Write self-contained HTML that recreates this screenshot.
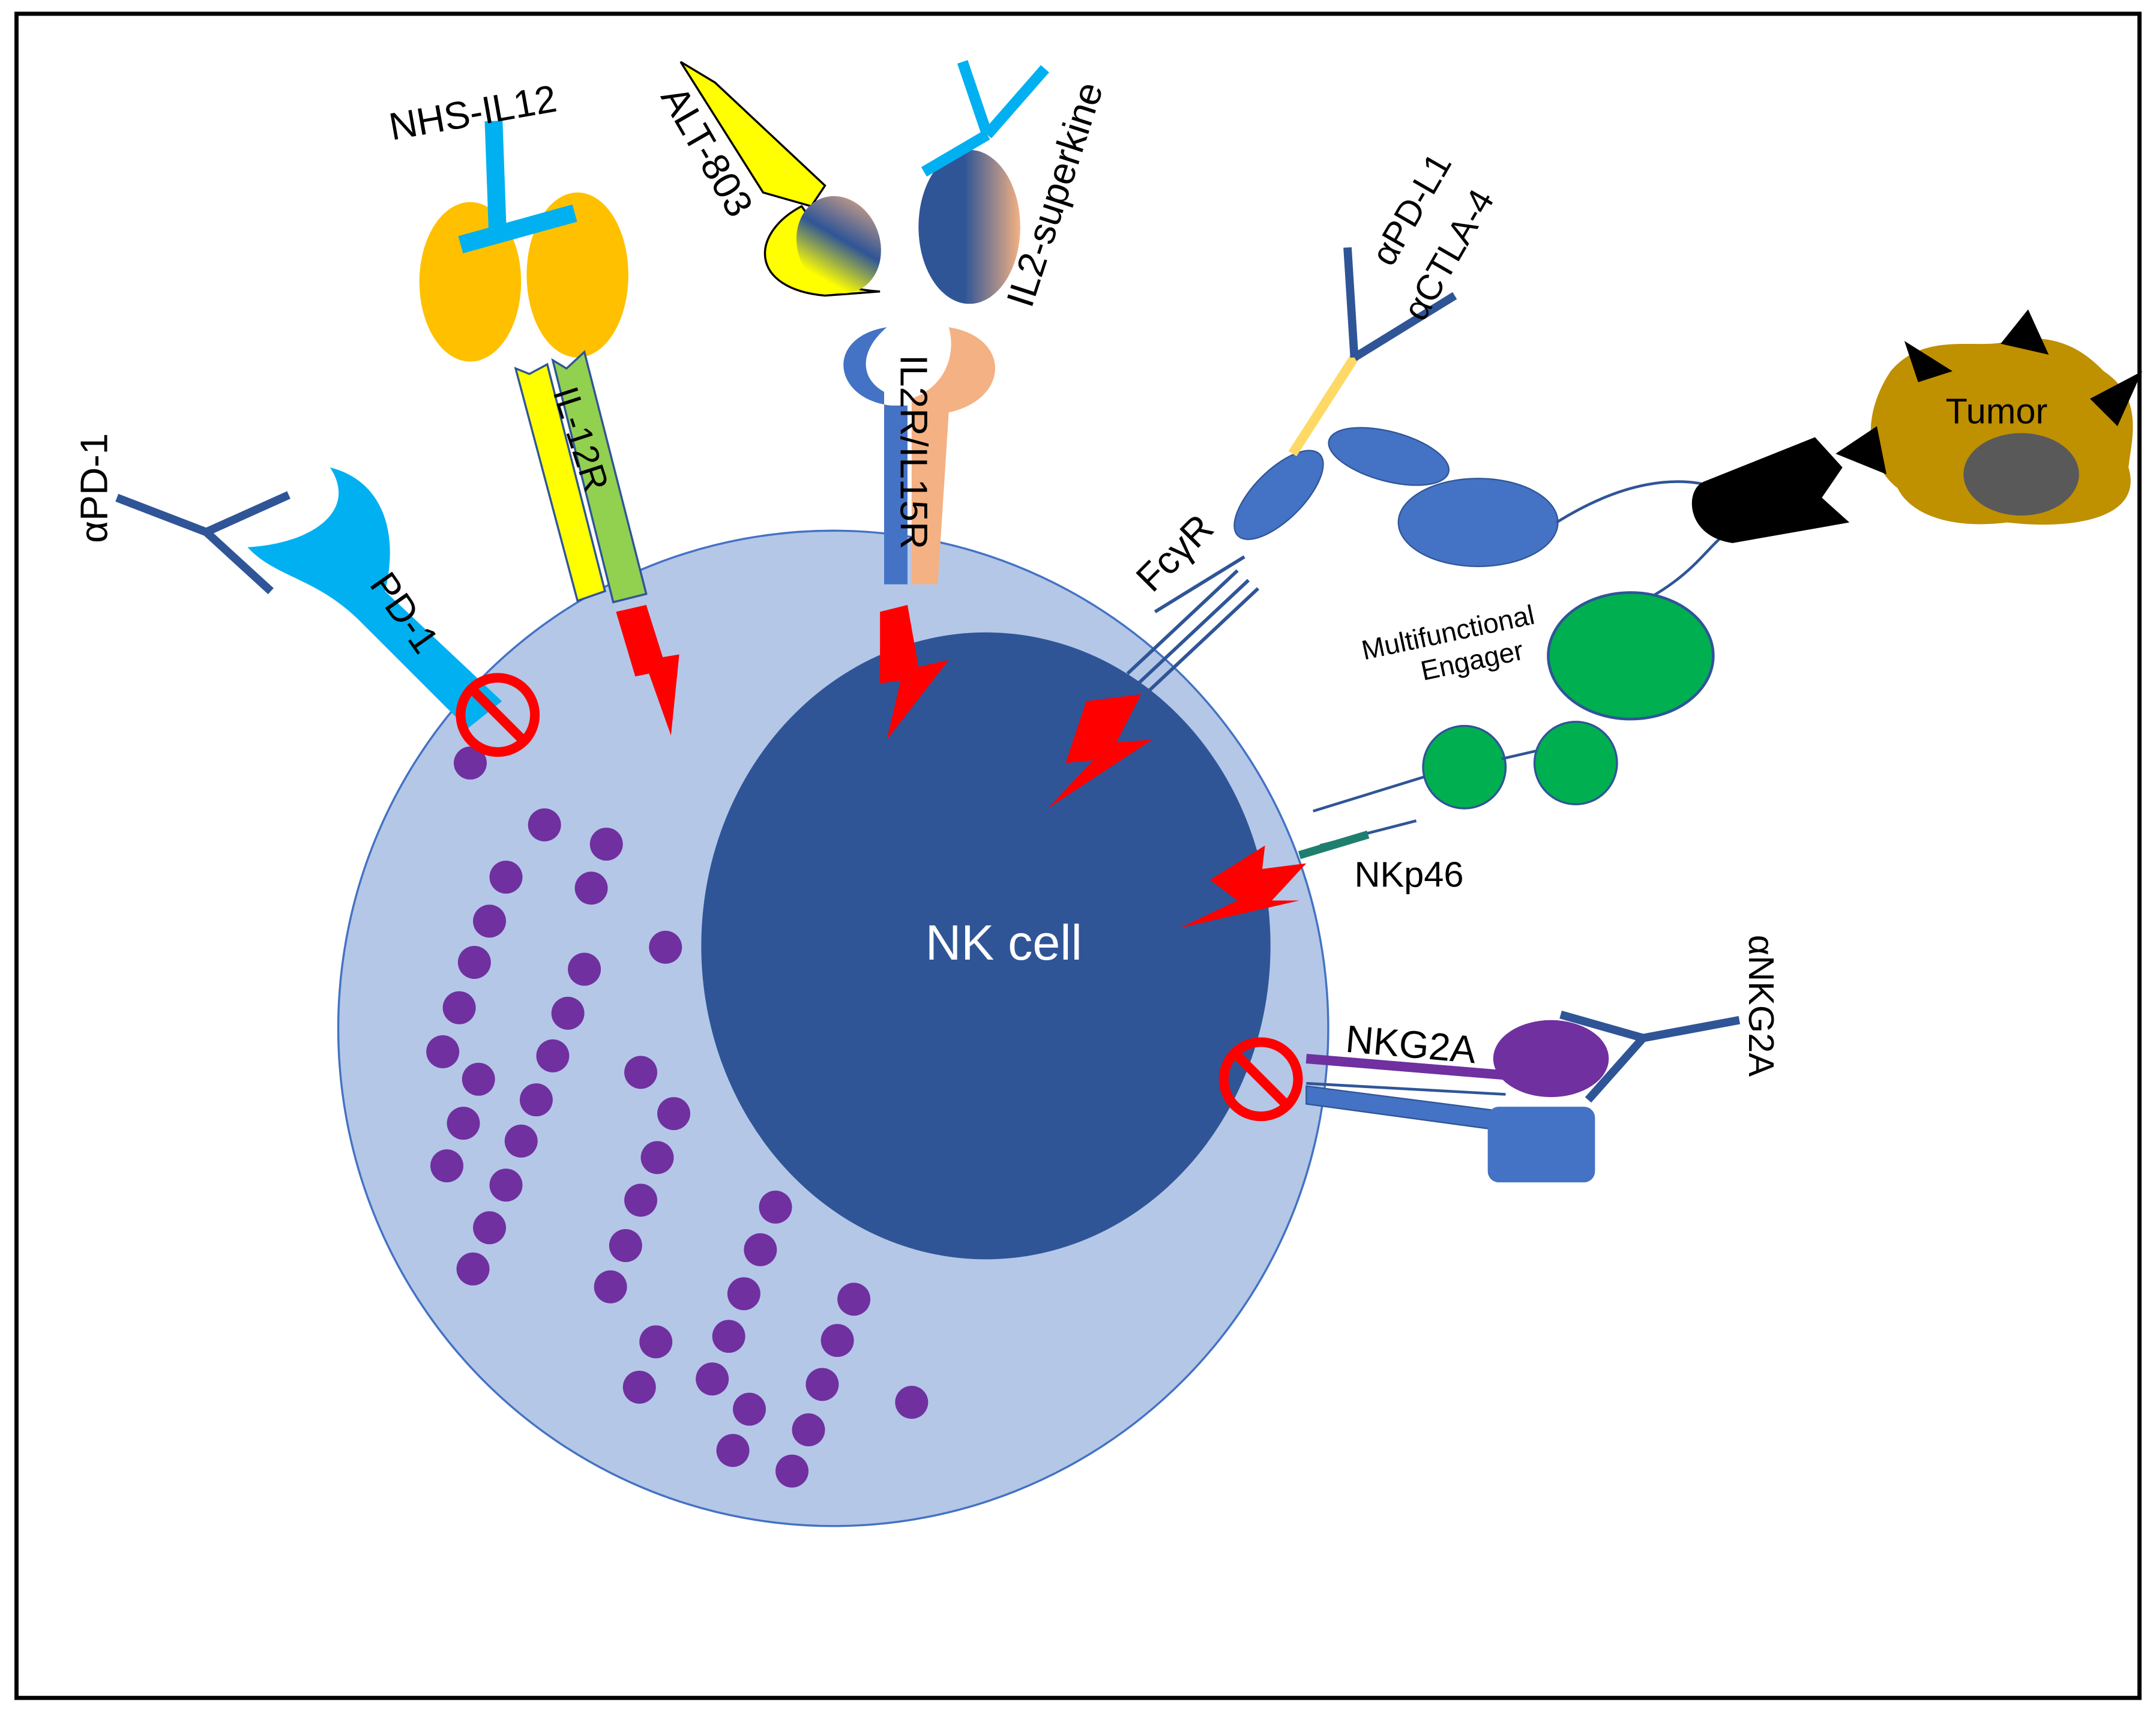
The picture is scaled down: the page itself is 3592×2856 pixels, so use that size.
<!DOCTYPE html>
<html><head><meta charset="utf-8"><style>html,body{margin:0;padding:0;background:#fff}svg{display:block}text{font-family:"Liberation Sans",sans-serif}</style></head>
<body>
<svg width="3592" height="2856" viewBox="0 0 1568 1246.7" xmlns="http://www.w3.org/2000/svg">
<defs>
<linearGradient id="g1" x1="0" y1="0" x2="1" y2="0"><stop offset="0" stop-color="#2f5597"/><stop offset="0.45" stop-color="#2f5597"/><stop offset="1" stop-color="#f4b183"/></linearGradient>
<linearGradient id="g2" x1="0" y1="1" x2="1" y2="0"><stop offset="0.2" stop-color="#ffff00"/><stop offset="0.55" stop-color="#2f5597"/><stop offset="1" stop-color="#f4b183"/></linearGradient>
</defs>
<rect x="12" y="10" width="1544" height="1225" fill="#fff" stroke="#000" stroke-width="3"/>
<ellipse cx="606" cy="748" rx="360" ry="362" fill="#b4c7e7" stroke="#4472c4" stroke-width="1.5"/>
<ellipse cx="717" cy="688" rx="207" ry="228" fill="#2f5597"/>
<text x="730" y="698" font-size="36" fill="#fff" text-anchor="middle">NK cell</text>
<g fill="#7030a0">
<circle cx="342" cy="555" r="12"/><circle cx="396" cy="600" r="12"/><circle cx="441" cy="614" r="12"/><circle cx="368" cy="638" r="12"/><circle cx="430" cy="646" r="12"/><circle cx="356" cy="670" r="12"/><circle cx="484" cy="689" r="12"/><circle cx="345" cy="700" r="12"/><circle cx="425" cy="705" r="12"/><circle cx="334" cy="733" r="12"/><circle cx="413" cy="737" r="12"/><circle cx="322" cy="765" r="12"/><circle cx="402" cy="768" r="12"/><circle cx="348" cy="785" r="12"/><circle cx="466" cy="780" r="12"/><circle cx="390" cy="800" r="12"/><circle cx="490" cy="810" r="12"/><circle cx="337" cy="817" r="12"/><circle cx="379" cy="830" r="12"/><circle cx="478" cy="842" r="12"/><circle cx="325" cy="848" r="12"/><circle cx="368" cy="862" r="12"/><circle cx="466" cy="873" r="12"/><circle cx="356" cy="893" r="12"/><circle cx="564" cy="878" r="12"/><circle cx="455" cy="906" r="12"/><circle cx="344" cy="923" r="12"/><circle cx="553" cy="909" r="12"/><circle cx="444" cy="936" r="12"/><circle cx="541" cy="941" r="12"/><circle cx="621" cy="945" r="12"/><circle cx="477" cy="976" r="12"/><circle cx="530" cy="972" r="12"/><circle cx="609" cy="975" r="12"/><circle cx="465" cy="1009" r="12"/><circle cx="518" cy="1003" r="12"/><circle cx="598" cy="1007" r="12"/><circle cx="545" cy="1025" r="12"/><circle cx="663" cy="1020" r="12"/><circle cx="588" cy="1040" r="12"/><circle cx="533" cy="1055" r="12"/><circle cx="576" cy="1070" r="12"/>
</g>
<path d="M180,398 C230,395 260,370 240,340 C280,350 290,390 280,430 L365,510 L340,530 L262,452 C230,420 200,420 180,398Z" fill="#00b0f0"/>
<g stroke="#2f5597" stroke-width="6" fill="none"><line x1="85" y1="362" x2="150" y2="387"/><line x1="150" y1="387" x2="210" y2="360"/><line x1="150" y1="387" x2="197" y2="430"/></g>
<text transform="translate(78,395) rotate(-90)" font-size="28">αPD-1</text>
<text transform="translate(268,425) rotate(55)" font-size="28">PD-1</text>
<ellipse cx="342" cy="205" rx="37" ry="58" fill="#ffc000"/>
<ellipse cx="420" cy="200" rx="37" ry="60" fill="#ffc000"/>
<g stroke="#00b0f0" stroke-width="13"><line x1="359" y1="88" x2="362" y2="172"/><line x1="335" y1="178" x2="418" y2="155"/></g>
<text transform="translate(285,102) rotate(-10)" font-size="28">NHS-IL12</text>
<path d="M375,268 L385,272 L398,265 L440,430 L420,437 Z" fill="#ffff00" stroke="#2f5597" stroke-width="1.5"/>
<path d="M402,262 L412,268 L425,256 L470,432 L446,438 Z" fill="#92d050" stroke="#2f5597" stroke-width="1.5"/>
<text transform="translate(402,285) rotate(72)" font-size="26">IL-12R</text>
<path d="M495,45 L520,60 L600,135 L590,150 L555,140 Z" fill="#ffff00" stroke="#000" stroke-width="1.5"/>
<path d="M583,150 C545,170 545,210 600,215 L640,212 C600,210 580,190 590,160 Z" fill="#ffff00" stroke="#000" stroke-width="1.5"/>
<ellipse cx="610" cy="178" rx="30" ry="36" fill="url(#g2)" transform="rotate(-20 610 178)"/>
<text transform="translate(480,70) rotate(60)" font-size="28">ALT-803</text>
<ellipse cx="705" cy="165" rx="37" ry="56" fill="url(#g1)"/>
<g stroke="#00b0f0" stroke-width="8"><line x1="672" y1="125" x2="718" y2="98"/><line x1="718" y1="98" x2="760" y2="50"/><line x1="718" y1="98" x2="700" y2="45"/></g>
<text transform="translate(750,225) rotate(-72)" font-size="28">IL2-superkine</text>
<path d="M645,238 C600,245 605,290 648,295 L660,295 L660,425 L643,425 L643,285 C625,275 625,255 645,238Z" fill="#4472c4"/>
<path d="M690,238 C735,245 735,290 690,300 L682,425 L663,425 L663,290 C690,280 695,255 690,238Z" fill="#f4b183"/>
<text transform="translate(655,258) rotate(90)" font-size="28">IL2R/IL15R</text>
<g fill="#ff0000">
<path d="M448,445 L470,440 L482,478 L494,476 L488,535 L472,490 L462,492 Z"/>
<path d="M640,445 L660,440 L668,485 L690,480 L645,538 L655,495 L640,497 Z"/>
<path d="M790,510 L830,505 L812,540 L838,538 L762,588 L795,553 L775,555 Z"/>
<path d="M880,640 L920,615 L918,632 L950,628 L925,655 L945,655 L858,675 L900,655 Z"/>
</g>
<g stroke="#ff0000" stroke-width="7" fill="none"><circle cx="362" cy="520" r="27"/><line x1="343" y1="501" x2="381" y2="539"/><circle cx="917" cy="785" r="27"/><line x1="898" y1="766" x2="936" y2="804"/></g>
<g stroke="#2f5597" stroke-width="2.5"><line x1="820" y1="490" x2="900" y2="415"/><line x1="828" y1="497" x2="908" y2="422"/><line x1="835" y1="503" x2="915" y2="428"/><line x1="840" y1="445" x2="905" y2="405"/></g>
<text transform="translate(838,432) rotate(-45)" font-size="28">FcγR</text>
<ellipse cx="930" cy="360" rx="18" ry="42" fill="#4472c4" stroke="#2f5597" transform="rotate(45 930 360)"/>
<line x1="940" y1="330" x2="985" y2="260" stroke="#ffd966" stroke-width="7"/>
<g stroke="#2f5597" stroke-width="6"><line x1="985" y1="260" x2="980" y2="180"/><line x1="985" y1="260" x2="1058" y2="215"/></g>
<text transform="translate(1012,195) rotate(-60)" font-size="26">αPD-L1</text>
<text transform="translate(1035,235) rotate(-60)" font-size="26">αCTLA-4</text>
<ellipse cx="1010" cy="332" rx="45" ry="18" fill="#4472c4" stroke="#2f5597" transform="rotate(15 1010 332)"/>
<ellipse cx="1075" cy="380" rx="58" ry="32" fill="#4472c4" stroke="#2f5597"/>
<path d="M1132,380 C1180,350 1220,345 1250,355 M1190,440 C1230,420 1240,400 1255,388" stroke="#2f5597" stroke-width="2" fill="none"/>
<path d="M1240,350 L1320,318 L1340,340 L1325,362 L1345,380 L1260,395 C1225,390 1225,355 1240,350Z" fill="#000"/>
<text transform="translate(992,480) rotate(-12)" font-size="20">Multifunctional</text>
<text transform="translate(1035,495) rotate(-12)" font-size="20">Engager</text>
<ellipse cx="1186" cy="477" rx="60" ry="46" fill="#00b050" stroke="#2f5597" stroke-width="2"/>
<ellipse cx="1065" cy="558" rx="30" ry="30" fill="#00b050" stroke="#2f5597" stroke-width="1.5"/>
<ellipse cx="1146" cy="555" rx="30" ry="30" fill="#00b050" stroke="#2f5597" stroke-width="1.5"/>
<g stroke="#2f5597" stroke-width="2"><line x1="955" y1="590" x2="1036" y2="565"/><line x1="1092" y1="552" x2="1118" y2="546"/><line x1="960" y1="615" x2="1030" y2="597"/></g>
<line x1="945" y1="622" x2="995" y2="607" stroke="#1f7f6f" stroke-width="6"/>
<text x="985" y="645" font-size="26">NKp46</text>
<path d="M1375,270 C1400,240 1440,255 1460,248 C1500,240 1520,260 1530,270 C1560,290 1550,320 1548,340 C1560,380 1500,385 1460,380 C1420,385 1390,375 1380,355 C1355,335 1355,300 1375,270Z" fill="#bf9000"/>
<ellipse cx="1470" cy="345" rx="42" ry="30" fill="#595959"/>
<text x="1415" y="308" font-size="26">Tumor</text>
<g fill="#000"><path d="M1385,248 L1420,270 L1395,278Z"/><path d="M1455,250 L1475,225 L1490,258Z"/><path d="M1520,290 L1558,270 L1540,310Z"/><path d="M1335,330 L1365,310 L1372,345Z"/></g>
<line x1="950" y1="770" x2="1095" y2="782" stroke="#7030a0" stroke-width="7"/>
<line x1="950" y1="788" x2="1095" y2="796" stroke="#2f5597" stroke-width="2"/>
<path d="M950,790 L1090,808 L1090,822 L950,803Z" fill="#4472c4" stroke="#2f5597"/>
<rect x="1082" y="805" width="78" height="55" rx="8" fill="#4472c4"/>
<ellipse cx="1128" cy="770" rx="42" ry="28" fill="#7030a0"/>
<g stroke="#2f5597" stroke-width="6" fill="none"><line x1="1135" y1="738" x2="1195" y2="755"/><line x1="1195" y1="755" x2="1265" y2="742"/><line x1="1195" y1="755" x2="1155" y2="800"/></g>
<text transform="translate(978,765) rotate(5)" font-size="28">NKG2A</text>
<text transform="translate(1272,680) rotate(90)" font-size="26">αNKG2A</text>
</svg>
</body></html>
